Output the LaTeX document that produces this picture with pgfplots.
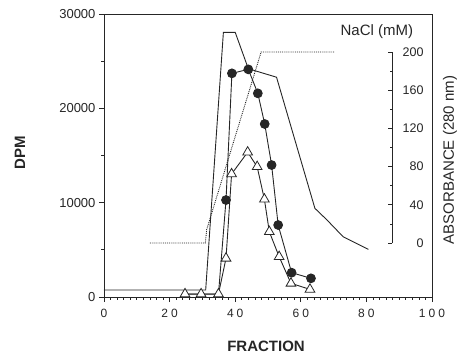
\documentclass[border=0pt]{standalone}
\usepackage{pgfplots}
\pgfplotsset{compat=1.18}
\usepackage{fontspec}
\setmainfont{Liberation Sans}
\definecolor{ink}{gray}{0.15}
\begin{document}
\begin{tikzpicture}
% NaCl gradient axis (right inner scale)
\begin{axis}[
  at={(0pt,0pt)}, anchor=south west,
  scale only axis, width=288pt, height=283pt,
  xmin=0, xmax=87.805, ymin=-56.5, ymax=239.8,
  axis x line=none, axis y line*=right,
  y axis line style={draw=none},
  ytick={0,40,...,200}, minor ytick={20,60,...,180},
  yticklabels={0,40,80,120,160,200},
  /pgf/number format/assume math mode=true,
  tick align=inside, major tick length=4pt, minor tick length=2.2pt,
  tick style={ink, line width=0.7pt},
  yticklabel style={font=\fontsize{12.5}{14}\selectfont, text width=21pt, align=right, xshift=7pt, text=ink},
  clip=false,
]
\draw[ink, line width=0.8pt] (axis cs:87.805,0) -- (axis cs:87.805,200);
\addplot[ink, line width=0.9pt, densely dotted] coordinates {
 (14,0) (30.9,0) (31.3,14) (47.9,200) (70.3,200)};
\end{axis}
% main axis
\begin{axis}[
  at={(0pt,0pt)}, anchor=south west,
  scale only axis, width=328pt, height=283pt,
  xmin=0, xmax=100, ymin=0, ymax=30000,
  xtick={0,20,...,100},
  xticklabels={0, 2\hspace{3pt}0, 4\hspace{3pt}0, 6\hspace{3pt}0, 8\hspace{3pt}0, 1\hspace{3pt}0\hspace{3pt}0},
  minor x tick num=9,
  ytick={0,10000,20000,30000}, yticklabels={0,10000,20000,30000},
  scaled y ticks=false,
  /pgf/number format/assume math mode=true,
  minor ytick={5000,15000,25000},
  xtick pos=left, ytick pos=left,
  tick align=outside, major tick length=5pt, minor tick length=2.5pt,
  tick style={ink, line width=0.7pt},
  axis line style={ink, line width=0.8pt},
  xticklabel style={font=\fontsize{12}{14}\selectfont, text=ink, yshift=-4pt},
  yticklabel style={font=\fontsize{13}{15}\selectfont, text=ink},
  clip=false,
]
% absorbance (280 nm) trace
\addplot[ink, line width=0.9pt, mark=none] coordinates {
 (0,740) (31,740) (36.4,28060) (40.0,28060) (44.0,24200) (52.6,23300)
 (64.3,9400) (68.0,8160) (72.9,6390) (76.5,5760) (80.6,5050)};
% filled circles
\addplot[ink, line width=0.9pt, mark=*, mark size=4.4pt,
  mark options={fill=ink, draw=ink}, mark indices={4,...,12}] coordinates {
 (24.7,300) (29.6,300) (34.9,300) (37.2,10280) (39.0,23710) (44.0,24130)
 (46.9,21590) (49.0,18340) (51.1,13990) (53.1,7630) (57.2,2580) (63.1,1980)};
% open triangles
\addplot[ink, line width=0.9pt, mark=triangle*, mark size=5.6pt,
  mark options={fill=white, draw=ink, line width=0.8pt}] coordinates {
 (24.7,320) (29.6,320) (34.9,320) (37.2,4100) (38.9,13040) (43.8,15350)
 (46.7,13810) (48.9,10360) (50.4,6920) (53.4,4270) (57.0,1450) (62.8,810)};
\node[font=\fontsize{15}{17}\selectfont, text=ink] at (rel axis cs:0.832,0.9375) {NaCl (mM)};
\node[font=\fontsize{15}{17}\selectfont, text=ink, rotate=90] at (rel axis cs:1.055,0.484) {ABSORBANCE (280 nm)};
\node[font=\bfseries\fontsize{15}{17}\selectfont, text=ink, rotate=90] at (rel axis cs:-0.256,0.509) {DPM};
\node[font=\bfseries\fontsize{15}{17}\selectfont, text=ink] at (rel axis cs:0.494,-0.176) {FRACTION};
\end{axis}
\pgfresetboundingbox
\path (-104pt,-60pt) rectangle (363pt,297pt);
\end{tikzpicture}
\end{document}
